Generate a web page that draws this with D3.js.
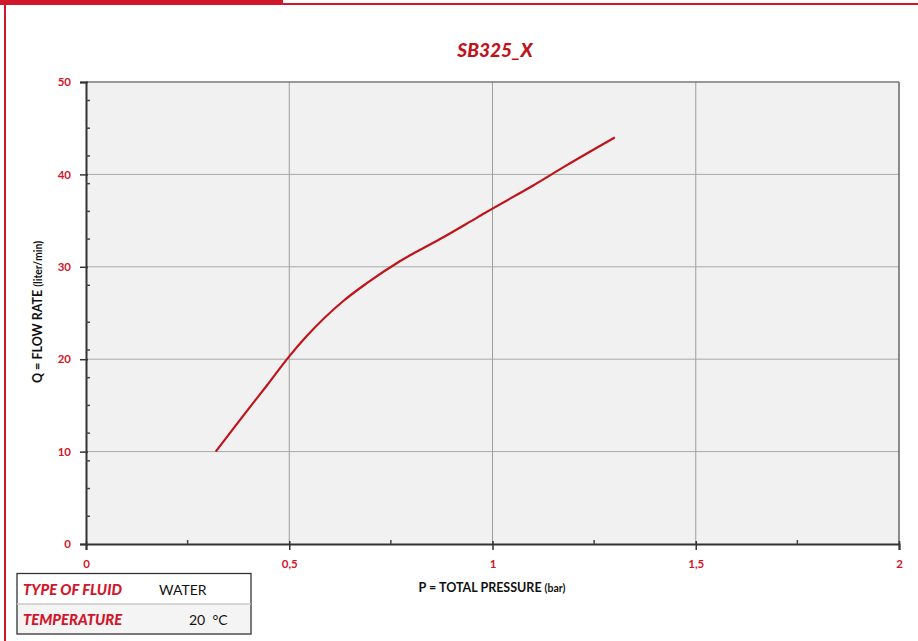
<!DOCTYPE html>
<html><head><meta charset="utf-8">
<script src="https://cdn.jsdelivr.net/npm/d3@7"></script>
<style>body{margin:0;background:#fff;}svg{display:block;}</style>
</head><body>
<svg id="c" width="918" height="641"></svg>
<script>
const title = "SB325_X";
const pressure = [0.319, 0.387, 0.444, 0.498, 0.543, 0.633, 0.690, 0.772, 0.871, 0.961, 1.000, 1.100, 1.183, 1.301];
const flow     = [10.0, 13.9, 17.1, 20.2, 22.5, 26.3, 28.2, 30.6, 33.0, 35.3, 36.3, 38.8, 41.0, 44.0];
const xTicks = [0, 0.5, 1, 1.5, 2];
const xTickLabels = ["0", "0,5", "1", "1,5", "2"];
const xMinorTicks = [0.25, 0.75, 1.25, 1.75];
const yTicks = [0, 10, 20, 30, 40, 50];
const yMinorTicks = [3, 6, 9, 12, 15, 18, 21, 24, 28, 33, 36, 39, 42, 45, 48];
const infoLabels = ["TYPE OF FLUID", "TEMPERATURE"];
const infoValues = ["WATER", "20  °C"];

const svg = d3.select("#c");
const RED = "#d0172b", DRED = "#c0141c";
const FONT = "Lato, 'Open Sans', sans-serif";

// page frame
svg.append("rect").attr("x",0).attr("y",0).attr("width",283).attr("height",5).attr("fill",RED);
svg.append("rect").attr("x",283).attr("y",3).attr("width",635).attr("height",2).attr("fill",RED);
svg.append("rect").attr("x",4).attr("y",0).attr("width",2).attr("height",641).attr("fill",RED);

const x = d3.scaleLinear().domain([0,2]).range([86,899]);
const y = d3.scaleLinear().domain([0,50]).range([544,82]);

// plot bg
svg.append("rect").attr("x",x(0)).attr("y",y(50)).attr("width",x(2)-x(0)).attr("height",y(0)-y(50)).attr("fill","#f1f1f1");

// grid
svg.append("g").selectAll("line").data(xTicks.slice(1,-1)).join("line")
  .attr("x1",d=>x(d)).attr("x2",d=>x(d)).attr("y1",y(0)).attr("y2",y(50))
  .attr("stroke","#9d9d9d").attr("stroke-width",1);
svg.append("g").selectAll("line").data(yTicks.slice(1,-1)).join("line")
  .attr("y1",d=>y(d)).attr("y2",d=>y(d)).attr("x1",x(0)).attr("x2",x(2))
  .attr("stroke","#a8a8a8").attr("stroke-width",1);

// frame top/right
svg.append("line").attr("x1",x(0)).attr("x2",x(2)).attr("y1",y(50)).attr("y2",y(50)).attr("stroke","#777").attr("stroke-width",1.5);
svg.append("line").attr("x1",x(2)).attr("x2",x(2)).attr("y1",y(50)).attr("y2",y(0)).attr("stroke","#666").attr("stroke-width",1.5);

// axes
const xAxis = svg.append("g").attr("transform",`translate(0,${y(0)})`)
  .call(d3.axisBottom(x).tickValues(xTicks).tickSize(6).tickFormat((d,i)=>xTickLabels[i]).tickPadding(10));
const yAxis = svg.append("g").attr("transform",`translate(${x(0)},0)`)
  .call(d3.axisLeft(y).tickValues(yTicks).tickSize(6).tickPadding(9));
[xAxis,yAxis].forEach(g=>{
  g.select(".domain").attr("stroke","#333").attr("stroke-width",2);
  g.selectAll(".tick line").attr("stroke","#333").attr("stroke-width",1.5);
  g.selectAll(".tick text").attr("fill",RED).attr("font-family",FONT).attr("font-weight","bold").attr("font-size",11.5);
});
xAxis.selectAll(".tick line").attr("y1",-3);
yAxis.selectAll(".tick line").attr("x1",2);
// minor ticks
svg.append("g").selectAll("line").data(xMinorTicks).join("line")
  .attr("x1",d=>x(d)).attr("x2",d=>x(d)).attr("y1",y(0)-4).attr("y2",y(0))
  .attr("stroke","#444").attr("stroke-width",1.5);
svg.append("g").selectAll("line").data(yMinorTicks).join("line")
  .attr("y1",d=>y(d)).attr("y2",d=>y(d)).attr("x1",x(0)).attr("x2",x(0)+4)
  .attr("stroke","#444").attr("stroke-width",1.5);

// curve
const pts = pressure.map((p,i)=>[p,flow[i]]);
svg.append("path").datum(pts)
  .attr("d", d3.line().x(d=>x(d[0])).y(d=>y(d[1])).curve(d3.curveMonotoneX))
  .attr("fill","none").attr("stroke",DRED).attr("stroke-width",2.2);

// title
svg.append("text").attr("x",495).attr("y",57).attr("text-anchor","middle")
  .attr("font-family",FONT).attr("font-weight","900").attr("font-style","italic")
  .attr("font-size",19).attr("fill",DRED).text(title);

// axis labels
const xl = svg.append("text").attr("x",492).attr("y",592).attr("text-anchor","middle")
  .attr("font-family",FONT).attr("font-weight","bold").attr("fill","#111").attr("font-size",12.5);
xl.append("tspan").text("P = TOTAL PRESSURE ");
xl.append("tspan").attr("font-size",10.5).text("(bar)");
const yl = svg.append("text").attr("transform","translate(42,312) rotate(-90)").attr("text-anchor","middle")
  .attr("font-family",FONT).attr("font-weight","bold").attr("fill","#111").attr("font-size",12.5);
yl.append("tspan").text("Q = FLOW RATE ");
yl.append("tspan").attr("font-size",10.5).text("(liter/min)");

// info table
const tb = svg.append("g");
tb.append("rect").attr("x",17).attr("y",604).attr("width",234).attr("height",30).attr("fill","#f4f4f4");
tb.append("rect").attr("x",17).attr("y",573.5).attr("width",234).attr("height",60.5).attr("fill","none").attr("stroke","#333").attr("stroke-width",1.3);
tb.append("line").attr("x1",17).attr("x2",251).attr("y1",604).attr("y2",604).attr("stroke","#c8c8c8").attr("stroke-width",1.3);
tb.selectAll("text.l").data(infoLabels).join("text").attr("class","l")
  .attr("x",23).attr("y",(d,i)=>595+i*30)
  .attr("font-family",FONT).attr("font-weight","900").attr("font-style","italic")
  .attr("font-size",14.8).attr("fill",RED).text(d=>d);
tb.selectAll("text.v").data(infoValues).join("text").attr("class","v")
  .attr("x",(d,i)=>i===0?159:189).attr("y",(d,i)=>595+i*30)
  .attr("font-family",FONT).attr("font-size",14).attr("fill","#111")
  .attr("xml:space","preserve").style("white-space","pre").text(d=>d);
</script>
</body></html>
